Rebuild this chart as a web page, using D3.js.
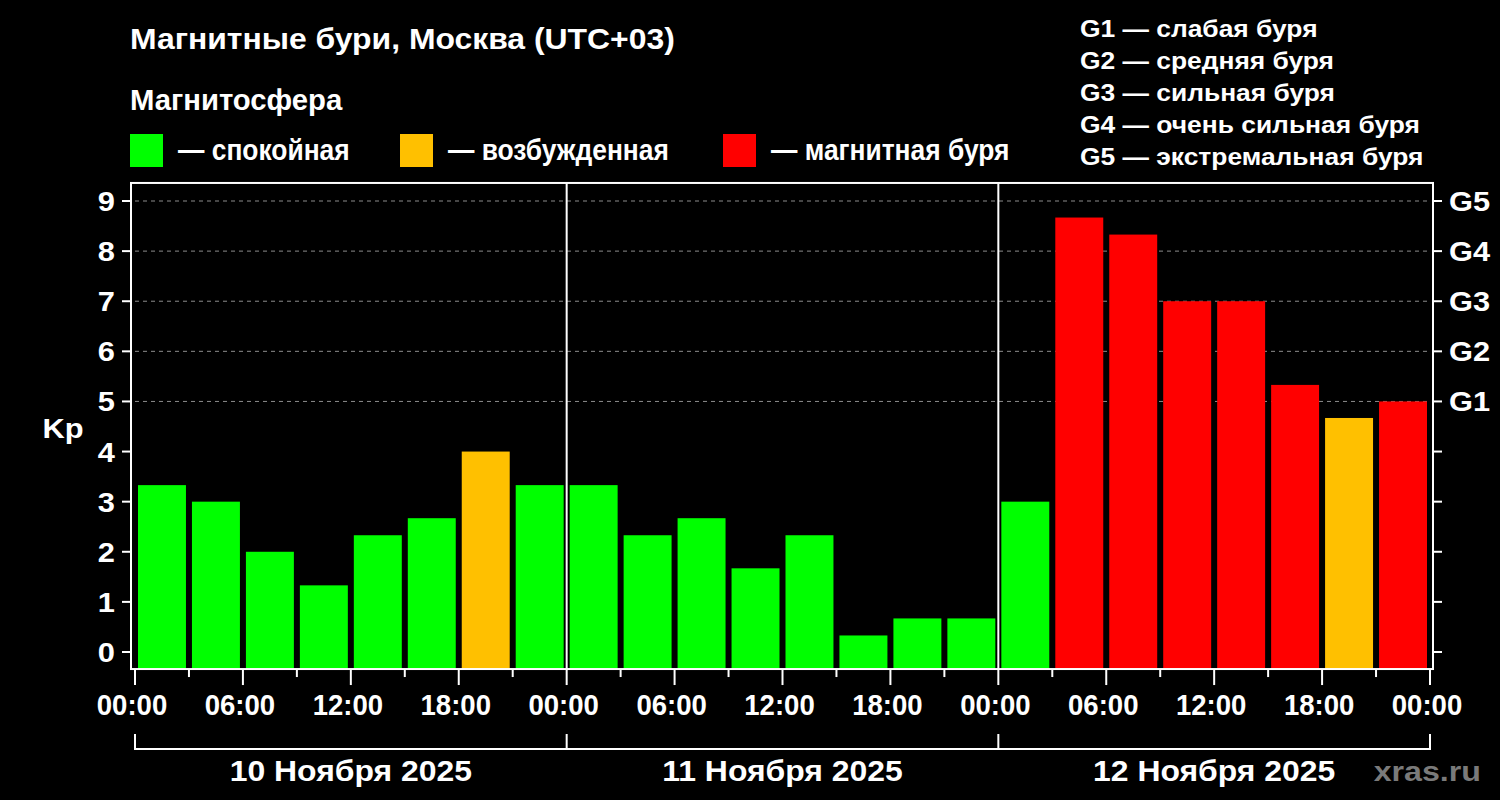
<!DOCTYPE html>
<html>
<head>
<meta charset="utf-8">
<script src="https://cdn.jsdelivr.net/npm/d3@7"></script>
<style>
  body { margin: 0; background: #000; }
  text { font-family: "Liberation Sans", Arial, sans-serif; font-weight: bold; fill: #fff; }
</style>
</head>
<body>
<div id="chart"></div>
<script>
// Kp index, 3 hour bins, Moscow time
var days = ["10 Ноября 2025", "11 Ноября 2025", "12 Ноября 2025"];
var kpValues = [
  3.33, 3.0, 2.0, 1.33, 2.33, 2.67, 4.0, 3.33,
  3.33, 2.33, 2.67, 1.67, 2.33, 0.33, 0.67, 0.67,
  3.0, 8.67, 8.33, 7.0, 7.0, 5.33, 4.67, 5.0
];
var yTicks = [0, 1, 2, 3, 4, 5, 6, 7, 8, 9];
var gLabels = ["G1", "G2", "G3", "G4", "G5"];
var gLevels = [5, 6, 7, 8, 9];
var gLegend = ["G1 — слабая буря", "G2 — средняя буря", "G3 — сильная буря", "G4 — очень сильная буря", "G5 — экстремальная буря"];
var stateNames = ["— спокойная", "— возбужденная", "— магнитная буря"];
var stateColors = ["#00ff00", "#ffc000", "#ff0000"];
var hourLabels = ["00:00", "06:00", "12:00", "18:00"];

var W = 1500, H = 800;

var svg = d3.select("#chart").append("svg")
  .attr("width", W)
  .attr("height", H)
  .style("background", "#000");

// text in the original is stretched a little differently per block, sx handles that
function label(x, y, str, size, anchor, sx, color) {
  return svg.append("text")
    .attr("transform", "translate(" + x + "," + y + ") scale(" + (sx || 1.1) + ",1)")
    .attr("text-anchor", anchor || "start")
    .style("font-size", size + "px")
    .style("fill", color || "#fff")
    .text(str);
}

var t0 = new Date(Date.UTC(2025, 10, 10));
var t1 = new Date(Date.UTC(2025, 10, 13));
var x = d3.scaleUtc().domain([t0, t1]).range([135, 1430]);
var y = d3.scaleLinear().domain([0, 9]).range([652, 201]);
var yBottom = y(-0.34), yTop = y(9.36);
var boxL = x(t0) - 4, boxR = x(t1) + 3;

var color = d3.scaleThreshold().domain([4, 5]).range(stateColors);

// grid
svg.append("g").selectAll("line")
  .data(yTicks.filter(function(d) { return d >= 5; }))
  .join("line")
  .attr("x1", boxL + 4).attr("x2", boxR - 2)
  .attr("y1", function(d) { return y(d); })
  .attr("y2", function(d) { return y(d); })
  .style("stroke", "#8c8c8c")
  .style("stroke-width", 1)
  .style("stroke-dasharray", "4,4");

// bars
svg.append("g").selectAll("rect")
  .data(kpValues)
  .join("rect")
  .attr("x", function(d, i) { return x(d3.utcHour.offset(t0, i * 3)) + 3; })
  .attr("width", function(d, i) {
    return x(d3.utcHour.offset(t0, i * 3 + 3)) - x(d3.utcHour.offset(t0, i * 3)) - 6;
  })
  .attr("y", function(d) { return y(d); })
  .attr("height", function(d) { return yBottom - y(d); })
  .style("fill", function(d) { return color(d); });

// frame
svg.append("rect")
  .attr("x", boxL).attr("y", yTop)
  .attr("width", boxR - boxL).attr("height", yBottom - yTop)
  .style("fill", "none").style("stroke", "#fff").style("stroke-width", 2);

// day dividers
svg.append("g").selectAll("line")
  .data([1, 2])
  .join("line")
  .attr("x1", function(d) { return x(d3.utcDay.offset(t0, d)); })
  .attr("x2", function(d) { return x(d3.utcDay.offset(t0, d)); })
  .attr("y1", yTop).attr("y2", yBottom)
  .style("stroke", "#fff").style("stroke-width", 2);

// left axis
var yl = svg.append("g");
yl.selectAll("line").data(yTicks).join("line")
  .attr("x1", boxL - 9).attr("x2", boxL)
  .attr("y1", function(d) { return y(d); }).attr("y2", function(d) { return y(d); })
  .style("stroke", "#fff").style("stroke-width", 2);
yTicks.forEach(function(d) {
  label(boxL - 16, y(d) + 10, d, 28, "end");
});
label(63, 438, "Kp", 28, "middle");

// right axis
var yr = svg.append("g");
yr.selectAll("line").data(yTicks).join("line")
  .attr("x1", boxR).attr("x2", boxR + 9)
  .attr("y1", function(d) { return y(d); }).attr("y2", function(d) { return y(d); })
  .style("stroke", "#fff").style("stroke-width", 2);
gLevels.forEach(function(d, i) {
  label(boxR + 16, y(d) + 10, gLabels[i], 28, "start");
});

// bottom axis ticks
var ticks3 = d3.utcHour.every(3).range(t0, d3.utcHour.offset(t1, 1));
svg.append("g").selectAll("line").data(ticks3).join("line")
  .attr("x1", function(d) { return x(d); }).attr("x2", function(d) { return x(d); })
  .attr("y1", yBottom)
  .attr("y2", function(d) { return d.getUTCHours() % 6 === 0 ? yBottom + 16 : yBottom + 8; })
  .style("stroke", "#fff").style("stroke-width", 2);
var ticks6 = d3.utcHour.every(6).range(t0, d3.utcHour.offset(t1, 1));
ticks6.forEach(function(d) {
  label(x(d) - 3, 715, hourLabels[d.getUTCHours() / 6], 29, "middle", 0.95);
});

// day brackets
var dayStarts = d3.utcDay.range(t0, d3.utcDay.offset(t1, 1));
svg.append("line")
  .attr("x1", x(t0)).attr("x2", x(t1))
  .attr("y1", 749).attr("y2", 749)
  .style("stroke", "#fff").style("stroke-width", 2);
svg.append("g").selectAll("line").data(dayStarts).join("line")
  .attr("x1", function(d) { return x(d); }).attr("x2", function(d) { return x(d); })
  .attr("y1", 734).attr("y2", 750)
  .style("stroke", "#fff").style("stroke-width", 2);
days.forEach(function(d, i) {
  var a = d3.utcDay.offset(t0, i), b = d3.utcDay.offset(t0, i + 1);
  label((x(a) + x(b)) / 2, 781, d, 29, "middle", 1.1);
});
label(1481, 781, "xras.ru", 28, "end", 1.15, "#7a7a7a");

// titles
label(130, 49, "Магнитные бури, Москва (UTC+03)", 29, "start", 1.1);
label(130, 110, "Магнитосфера", 29, "start", 1.01);

// state legend
var legX = [130, 400, 723];
stateNames.forEach(function(d, i) {
  svg.append("rect")
    .attr("x", legX[i]).attr("y", 134)
    .attr("width", 33).attr("height", 33)
    .style("fill", stateColors[i]);
  label(legX[i] + 48, 160, d, 29, "start", 0.91);
});

// G legend
gLegend.forEach(function(d, i) {
  label(1080, 37 + i * 32, d, 24, "start", 1.1);
});
</script>
</body>
</html>
